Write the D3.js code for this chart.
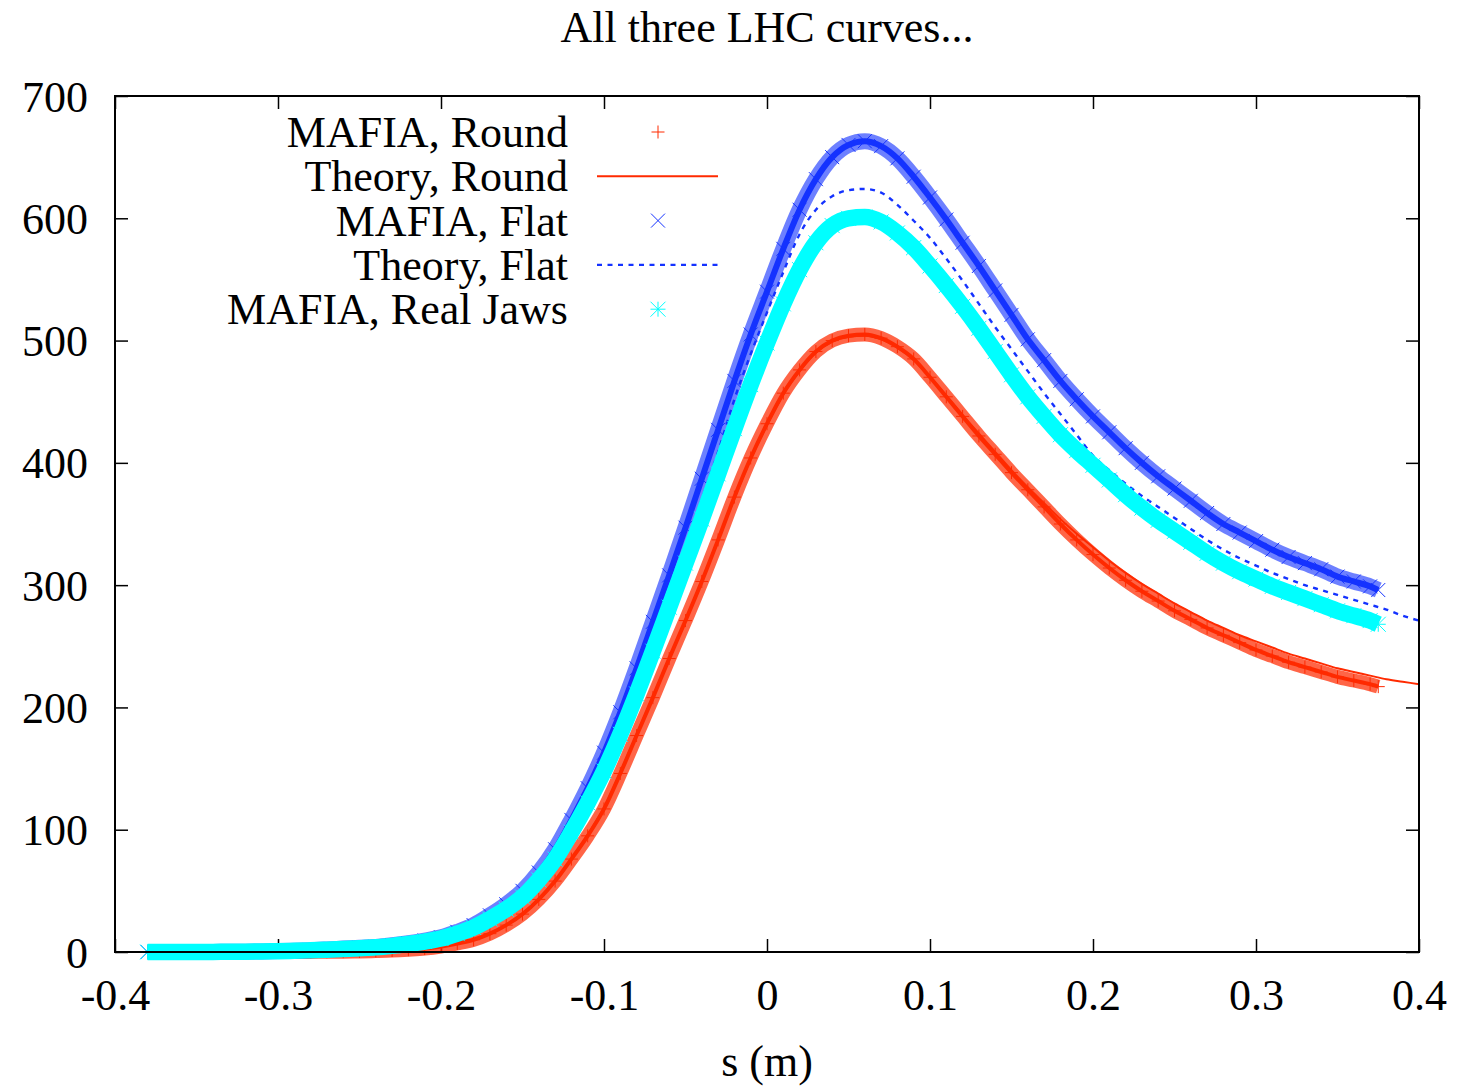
<!DOCTYPE html>
<html>
<head>
<meta charset="utf-8">
<script src="https://cdn.jsdelivr.net/npm/d3@7"></script>
<style>
  body { margin: 0; background: #fff; }
  svg { display: block; }
</style>
</head>
<body>
<div id="chart"></div>
<script>
// s positions (m) of the MAFIA samples and theory samples
const sMafia = [-0.38,-0.37,-0.36,-0.35,-0.34,-0.33,-0.32,-0.31,-0.30,-0.29,-0.28,-0.27,-0.26,-0.25,-0.24,-0.23,-0.22,-0.21,-0.20,-0.19,-0.18,-0.17,-0.16,-0.15,-0.14,-0.13,-0.12,-0.11,-0.10,-0.09,-0.08,-0.07,-0.06,-0.05,-0.04,-0.03,-0.02,-0.01,0,0.01,0.02,0.03,0.04,0.05,0.06,0.07,0.08,0.09,0.10,0.11,0.12,0.13,0.14,0.15,0.16,0.17,0.18,0.19,0.20,0.21,0.22,0.23,0.24,0.25,0.26,0.27,0.28,0.29,0.30,0.31,0.32,0.33,0.34,0.35,0.36,0.37,0.375];
const sTheory = [-0.38,-0.37,-0.36,-0.35,-0.34,-0.33,-0.32,-0.31,-0.30,-0.29,-0.28,-0.27,-0.26,-0.25,-0.24,-0.23,-0.22,-0.21,-0.20,-0.19,-0.18,-0.17,-0.16,-0.15,-0.14,-0.13,-0.12,-0.11,-0.10,-0.09,-0.08,-0.07,-0.06,-0.05,-0.04,-0.03,-0.02,-0.01,0,0.01,0.02,0.03,0.04,0.05,0.06,0.07,0.08,0.09,0.10,0.11,0.12,0.13,0.14,0.15,0.16,0.17,0.18,0.19,0.20,0.21,0.22,0.23,0.24,0.25,0.26,0.27,0.28,0.29,0.30,0.31,0.32,0.33,0.34,0.35,0.36,0.37,0.38,0.39,0.40];

const mafiaRound = [0,0,0,0,0,0,0,0,0,0,0.1,0.2,0.3,0.5,0.8,1.2,1.9,2.8,4.5,7,10,15,22,31,43,58,76,95,117,146,177,208,240,271,303,337,372,404,432,457,476,491,500,504,505,502,495,485,470,454,438,422,407,392,378,364,350,337,325,314,304,295,287,279,272,265,259,253,247,242,237,233,229,225,222,219,217];
const mafiaFlat = [0,0,0,0,0.1,0.2,0.3,0.5,0.8,1.1,1.5,2.1,2.8,3.5,4.2,5.5,7.2,9.4,12,16.5,22,30,39,50,65,84,108,134,163,196,232,270,308,347,387,427,467,505,540,575,607,632,650,660,663,659,649,634,617,599,580,561,541,521,501,484,467,452,438,425,412,400,389,379,369,359,350,343,336,329,323,318,313,307,303,299,296];
const mafiaJaws = [0,0,0,0,0.1,0.2,0.3,0.5,0.7,1,1.4,1.9,2.5,3.1,3.8,5,6.5,8.5,11,15,20,27,35,45,59,76,98,122,148,178,211,246,282,318,354,391,428,464,498,530,558,580,594,600,601,597,588,576,561,545,528,510,491,472,454,438,423,410,398,386,374,363,353,344,335,326,318,311,305,299,294,289,284,279,275,271,268];
const theoryRound = [0,0,0,0,0,0,0,0,0,0,0.1,0.2,0.3,0.5,0.8,1.2,1.9,2.8,4.5,7,10,15,22,31,43,58,76,96,118,147,178,209,240,271,303,337,371,403,431,456,475,490,499,503,504,501,494,484,470,455,439,424,409,394,380,367,354,342,331,320,310,301,293,285,278,271,265,259,254,249,244,240,236,232,229,226,223,221,219];
const theoryFlat = [0,0,0,0,0.1,0.2,0.3,0.5,0.7,1,1.5,2,2.6,3.3,4,5.2,6.8,8.9,11.5,15.6,21,28,36,47,61,79,102,127,154,185,220,256,294,332,370,409,452,489,523,556,587,607,618,623,624,621,611,598,584,567,549,530,511,493,475,457,440,423,406,394,383,373,364,355,346,337,329,322,316,310,305,300,296,292,288,284,280,275,271];

const xTicks = [-0.4,-0.3,-0.2,-0.1,0,0.1,0.2,0.3,0.4];
const yTicks = [0,100,200,300,400,500,600,700];

const red = "#ff2a00", blue = "#1432ff", cyan = "#00ffff";
const font = "'Liberation Serif', 'Times New Roman', serif";

const series = [
  { name: "MAFIA, Round", s: sMafia, v: mafiaRound, kind: "plus", color: red },
  { name: "Theory, Round", s: sTheory, v: theoryRound, kind: "line", color: red },
  { name: "MAFIA, Flat", s: sMafia, v: mafiaFlat, kind: "cross", color: blue },
  { name: "Theory, Flat", s: sTheory, v: theoryFlat, kind: "dash", color: blue },
  { name: "MAFIA, Real Jaws", s: sMafia, v: mafiaJaws, kind: "star", color: cyan }
];

const width = 1479, height = 1086;
const plotLeft = 115, plotRight = 1419, plotTop = 96, plotBottom = 952;

const svg = d3.select("#chart").append("svg")
  .attr("width", width).attr("height", height)
  .style("font-family", font);

const x = d3.scaleLinear().domain([-0.4, 0.4]).range([plotLeft, plotRight]);
const y = d3.scaleLinear().domain([0, 700]).range([plotBottom, plotTop]);

// ticks (all inward, mirrored on top and right)
function styleAxis(g) {
  g.select(".domain").remove();
  g.selectAll(".tick line").attr("stroke", "#000").attr("stroke-width", 1.5);
  g.attr("font-family", font).attr("font-size", 44);
}
svg.append("g").attr("transform", `translate(0,${plotBottom})`)
  .call(d3.axisBottom(x).tickValues(xTicks).tickSizeInner(-13).tickSizeOuter(0).tickFormat(d => String(d)))
  .call(styleAxis)
  .call(g => g.selectAll("text").attr("dy", null).attr("y", 58).attr("fill", "#000"));
svg.append("g").attr("transform", `translate(0,${plotTop})`)
  .call(d3.axisTop(x).tickValues(xTicks).tickSizeInner(-13).tickSizeOuter(0).tickFormat(""))
  .call(styleAxis);
svg.append("g").attr("transform", `translate(${plotLeft},0)`)
  .call(d3.axisLeft(y).tickValues(yTicks).tickSizeInner(-13).tickSizeOuter(0))
  .call(styleAxis)
  .call(g => g.selectAll("text").attr("dy", null).attr("x", -27).attr("y", 15).attr("fill", "#000"));
svg.append("g").attr("transform", `translate(${plotRight},0)`)
  .call(d3.axisRight(y).tickValues(yTicks).tickSizeInner(-13).tickSizeOuter(0).tickFormat(""))
  .call(styleAxis);

// marker shapes like gnuplot point types
function markerPath(kind, h) {
  const plus = `M${-h},0H${h}M0,${-h}V${h}`;
  const cross = `M${-h},${-h}L${h},${h}M${-h},${h}L${h},${-h}`;
  if (kind === "plus") return plus;
  if (kind === "cross") return cross;
  return plus + cross;
}
const markerSize = { plus: 6.5, cross: 7, star: 7.5 };
const bandStyle = {
  plus: { w: 14, op: 0.72, core: 4 },
  cross: { w: 16, op: 0.62, core: 6 },
  star: { w: 16.5, op: 1, core: 0 }
};

const line = d3.line().curve(d3.curveMonotoneX);
const plot = svg.append("g");

series.forEach(sr => {
  const pts = sr.s.map((s, i) => [x(s), y(sr.v[i])]);
  if (sr.kind === "line" || sr.kind === "dash") {
    plot.append("path")
      .attr("d", line(pts))
      .attr("fill", "none")
      .attr("stroke", sr.color)
      .attr("stroke-width", sr.kind === "line" ? 2 : 2.4)
      .attr("stroke-dasharray", sr.kind === "dash" ? "5,5.5" : null);
  } else {
    const st = bandStyle[sr.kind];
    // dense MAFIA output looks like a thick band of overlapping markers
    plot.append("path")
      .attr("d", line(pts))
      .attr("fill", "none")
      .attr("stroke", sr.color)
      .attr("stroke-width", st.w)
      .attr("stroke-opacity", st.op);
    if (st.core > 0) {
      plot.append("path")
        .attr("d", line(pts))
        .attr("fill", "none")
        .attr("stroke", sr.color)
        .attr("stroke-width", st.core);
    }
    plot.append("g").selectAll("path")
      .data(pts)
      .join("path")
      .attr("transform", d => `translate(${d[0]},${d[1]})`)
      .attr("d", markerPath(sr.kind, markerSize[sr.kind]))
      .attr("fill", "none")
      .attr("stroke", sr.color)
      .attr("stroke-width", 1);
  }
});

// frame on top
svg.append("rect")
  .attr("x", plotLeft).attr("y", plotTop)
  .attr("width", plotRight - plotLeft).attr("height", plotBottom - plotTop)
  .attr("fill", "none").attr("stroke", "#000").attr("stroke-width", 2);

// legend
const legend = svg.append("g");
series.forEach((sr, i) => {
  const by = 147 + i * 44.3;
  const cy = by - 15;
  legend.append("text")
    .attr("x", 568).attr("y", by)
    .attr("text-anchor", "end")
    .attr("font-size", 44)
    .text(sr.name);
  if (sr.kind === "line" || sr.kind === "dash") {
    legend.append("line")
      .attr("x1", 597).attr("x2", 718).attr("y1", cy).attr("y2", cy)
      .attr("stroke", sr.color)
      .attr("stroke-width", sr.kind === "line" ? 2 : 2.4)
      .attr("stroke-dasharray", sr.kind === "dash" ? "5,5.5" : null);
  } else {
    legend.append("path")
      .attr("transform", `translate(658,${cy})`)
      .attr("d", markerPath(sr.kind, markerSize[sr.kind]))
      .attr("fill", "none")
      .attr("stroke", sr.color)
      .attr("stroke-width", 1);
  }
});

// title and axis label
svg.append("text")
  .attr("x", 767).attr("y", 42)
  .attr("text-anchor", "middle")
  .attr("font-size", 44)
  .text("All three LHC curves...");
svg.append("text")
  .attr("x", 767).attr("y", 1076)
  .attr("text-anchor", "middle")
  .attr("font-size", 44)
  .text("s (m)");
</script>
</body>
</html>
